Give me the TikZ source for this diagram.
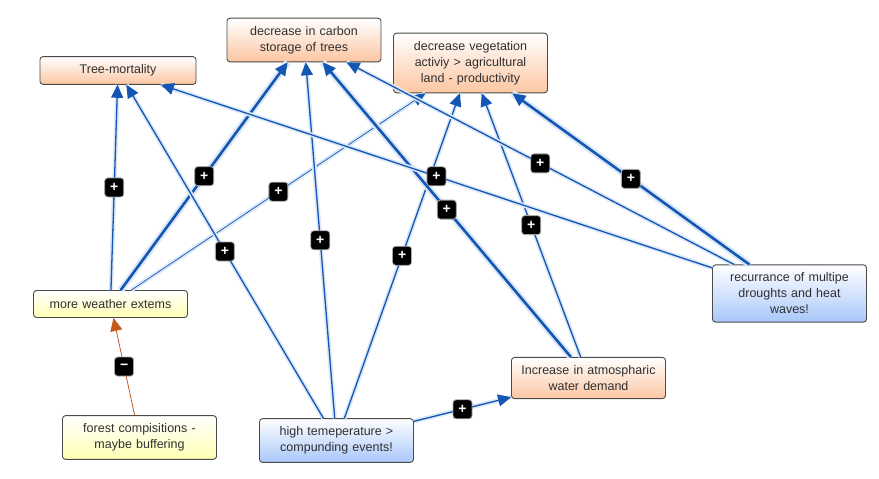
\documentclass[tikz,border=0pt]{standalone}
\usepackage{fontspec}
\newfontfamily\diagfont{Liberation Sans}
\usetikzlibrary{arrows.meta}

\definecolor{linkblue}{HTML}{1456B4}
\definecolor{linkglow}{HTML}{DCE8F7}
\definecolor{negorange}{HTML}{C55A1E}
\definecolor{orangefill}{HTML}{FCC6A2}
\definecolor{yellowfill}{HTML}{FFFFB2}
\definecolor{bluefill}{HTML}{A8C7FA}
\definecolor{boxborder}{HTML}{4A4A4A}
\definecolor{boxtext}{HTML}{303030}

\tikzset{
  factor/.style={draw=boxborder, line width=0.9pt, rounded corners=3pt,
    minimum width=154pt, text width=147pt, align=center, inner ysep=8pt,
    minimum height=27pt, text=boxtext,
    font=\diagfont\fontsize{12.5}{16}\selectfont},
  effect/.style={factor, top color=white, bottom color=orangefill},
  hazard/.style={factor, top color=white, bottom color=bluefill},
  driver/.style={factor, top color=white, bottom color=yellowfill},
  link/.style={-{Triangle[length=13pt,width=12pt]}, draw=linkblue, line width=1.3pt,
    preaction={draw=linkglow, line width=4.5pt, -}},
  strong link/.style={link, line width=2.6pt, preaction={draw=linkglow, line width=7pt, -}},
  weak link/.style={link, line width=0.7pt},
  neg link/.style={-{Triangle[length=13pt,width=12pt]}, draw=negorange, line width=0.8pt},
  signbox/.style={fill=black, draw=gray!70, line width=0.8pt, rounded corners=3pt,
    minimum size=19pt, inner sep=0pt, text=white,
    font=\diagfont\bfseries\fontsize{14}{14}\selectfont}
}

\begin{document}
\begin{tikzpicture}[x=1pt, y=-1pt]
    \useasboundingbox (0,0) rectangle (879,479);

    % Draw the effect nodes (top row)
    \node[effect, minimum width=156pt] (mortality) at (118,70.5) {Tree-mortality};
    \node[effect] (carbon) at (304,40) {decrease in carbon\\ storage of trees};
    \node[effect] (vegetation) at (470.5,63) {decrease vegetation\\ activiy > agricultural\\ land - productivity};

    % Draw the drivers
    \node[driver] (extremes) at (110.5,304) {more weather extems};
    \node[driver] (forest) at (139.5,437.5) {forest compisitions -\\ maybe buffering};
    \node[hazard] (hightemp) at (336.5,440.5) {high temeperature >\\ compunding events!};
    \node[effect] (waterdemand) at (588.5,378) {Increase in atmospharic\\ water demand};
    \node[hazard] (droughts) at (789.5,293.5) {recurrance of multipe\\ droughts and heat\\ waves!};

    % Links from weather extremes
    \draw[link] (extremes) -- node[signbox] {+} (mortality);
    \draw[strong link] (extremes) -- node[signbox] {+} (carbon);
    \draw[weak link] (extremes) -- node[signbox] {+} (vegetation);

    % Links from high temperature
    \draw[link] (hightemp) -- node[signbox] {+} (mortality);
    \draw[link] (hightemp) -- node[signbox] {+} (carbon);
    \draw[link] (hightemp) -- node[signbox] {+} (vegetation);
    \draw[link] (hightemp) -- node[signbox] {+} (waterdemand);

    % Links from water demand
    \draw[strong link] (waterdemand) -- node[signbox] {+} (carbon);
    \draw[link] (waterdemand) -- node[signbox] {+} (vegetation);

    % Links from droughts
    \draw[link] (droughts) -- node[signbox] {+} (mortality);
    \draw[link] (droughts) -- node[signbox] {+} (carbon);
    \draw[strong link] (droughts) -- node[signbox] {+} (vegetation);

    % Buffering
    \draw[neg link] (forest) -- node[signbox] {−} (extremes);

\end{tikzpicture}
\end{document}
